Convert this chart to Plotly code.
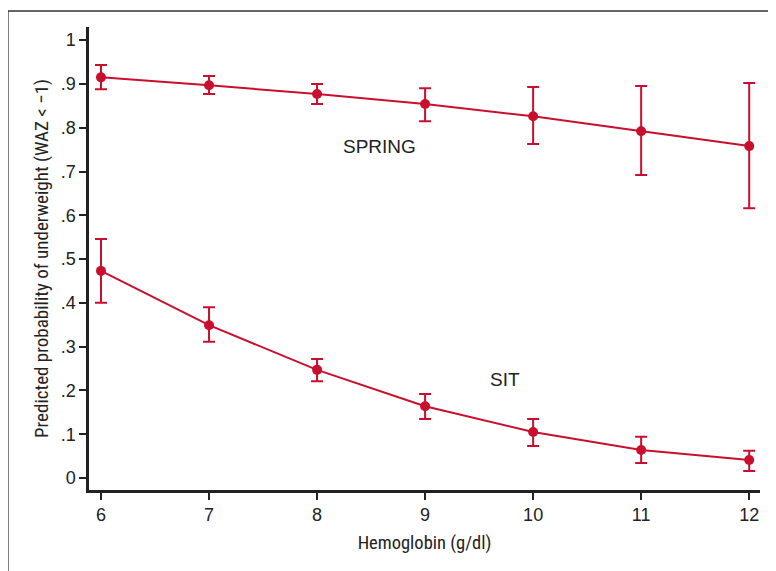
import plotly.graph_objects as go

hemoglobin = [6, 7, 8, 9, 10, 11, 12]
spring_prob = [0.915, 0.897, 0.877, 0.854, 0.826, 0.792, 0.758]
spring_lo = [0.888, 0.877, 0.854, 0.815, 0.763, 0.692, 0.616]
spring_hi = [0.943, 0.918, 0.900, 0.890, 0.893, 0.895, 0.902]
sit_prob = [0.473, 0.349, 0.247, 0.164, 0.105, 0.064, 0.041]
sit_lo = [0.400, 0.311, 0.221, 0.135, 0.073, 0.034, 0.016]
sit_hi = [0.546, 0.390, 0.272, 0.192, 0.135, 0.094, 0.062]
y_ticks = [0, 0.1, 0.2, 0.3, 0.4, 0.5, 0.6, 0.7, 0.8, 0.9, 1.0]
y_tick_labels = ["0", ".1", ".2", ".3", ".4", ".5", ".6", ".7", ".8", ".9", "1"]

RED = "#c8102e"

fig = go.Figure()
for name, p, lo, hi in [("SPRING", spring_prob, spring_lo, spring_hi),
                        ("SIT", sit_prob, sit_lo, sit_hi)]:
    fig.add_trace(go.Scatter(
        x=hemoglobin, y=p, mode="lines+markers", name=name,
        line=dict(color=RED, width=2),
        marker=dict(color=RED, size=10),
        error_y=dict(type="data", symmetric=False,
                     array=[h - v for h, v in zip(hi, p)],
                     arrayminus=[v - l for v, l in zip(p, lo)],
                     color=RED, thickness=2, width=6),
        showlegend=False,
    ))

fig.add_annotation(x=8.58, y=0.758, text="SPRING", showarrow=False,
                   font=dict(size=19, color="#222", family="Liberation Sans, Arial"))
fig.add_annotation(x=9.74, y=0.224, text="SIT", showarrow=False,
                   font=dict(size=19, color="#222", family="Liberation Sans, Arial"))

# page body has an 8px margin; figure is laid out in its own coordinates
L, R, T, B = 81, 16, 19, 81
W, H = 768, 563
pw, ph = W - L - R, H - T - B

def px(x):
    return (x - L) / pw

def py(y):
    return (H - B - y) / ph

fig.add_shape(type="line", xref="paper", yref="paper", x0=px(0), x1=px(0), y0=py(3), y1=py(570),
              line=dict(color="#555", width=1.5))
fig.add_shape(type="line", xref="paper", yref="paper", x0=px(0), x1=px(767), y0=py(3), y1=py(3),
              line=dict(color="#333", width=1.5))
fig.add_shape(type="line", xref="paper", yref="paper", x0=px(767), x1=px(767), y0=py(3), y1=py(570),
              line=dict(color="#ccc", width=1.5))

fig.update_layout(
    width=W, height=H,
    margin=dict(l=L, r=R, t=T, b=B, autoexpand=False),
    paper_bgcolor="white", plot_bgcolor="white",
    font=dict(family="Liberation Sans, Arial", color="#222", size=18),
    xaxis=dict(range=[5.889, 12.10], tickvals=hemoglobin, ticks="outside", ticklen=7,
               tickwidth=2, tickcolor="#222", showline=True, linecolor="#222", linewidth=2.5,
               showgrid=False, zeroline=False, tickfont=dict(size=18),
               title=dict(text="Hemoglobin (g/dl)", standoff=12,
                          font=dict(family="Liberation Sans Narrow, Roboto Condensed, Arial", size=18.5))),
    yaxis=dict(range=[-0.0274, 1.03], tickvals=y_ticks, ticktext=y_tick_labels, ticks="outside",
               ticklen=7, tickwidth=2, tickcolor="#222", showline=True, linecolor="#222",
               linewidth=2.5, showgrid=False, zeroline=False, tickfont=dict(size=18),
               title=dict(text="Predicted probability of underweight (WAZ < \u22121)", standoff=7,
                          font=dict(family="Liberation Sans Narrow, Roboto Condensed, Arial", size=19))),
)

fig.write_html("out.html")
